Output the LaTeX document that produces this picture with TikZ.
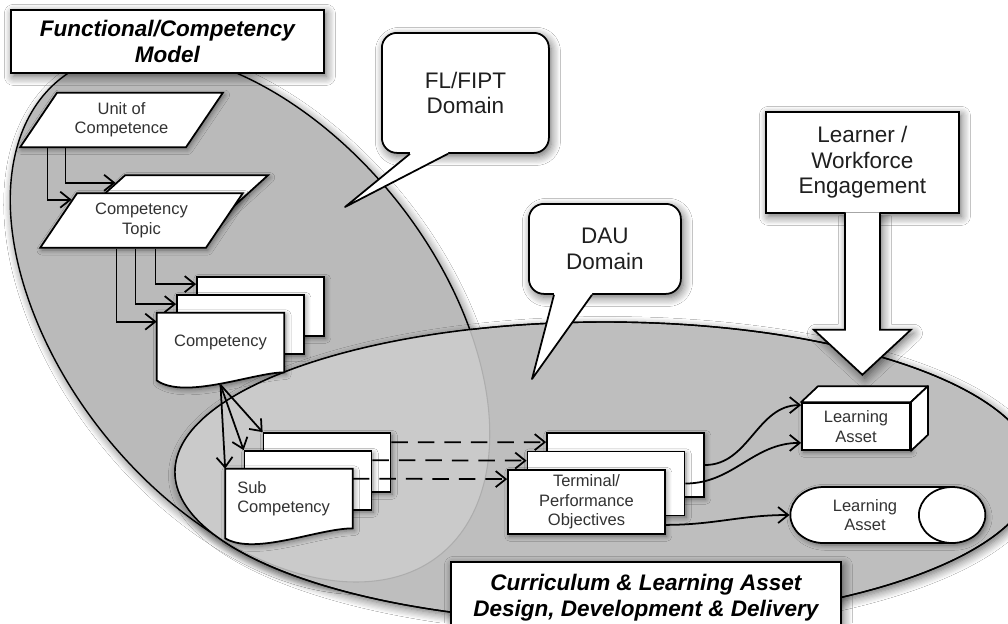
\documentclass[tikz,border=0pt]{standalone}
\usepackage{fontspec}
\setmainfont{Liberation Sans}
\usepackage{tikz}
\usetikzlibrary{arrows.meta,positioning,calc,shapes.geometric,shadows.blur}
\definecolor{fcm}{RGB}{186,186,186}
\definecolor{cla}{RGB}{190,190,190}
\definecolor{both}{RGB}{202,202,202}
\definecolor{ink}{RGB}{50,50,50}
\tikzset{
  halo/.style={blur shadow={shadow xshift=0.5mm, shadow yshift=-0.7mm, shadow blur radius=1.8mm, shadow blur steps=8, shadow opacity=60}},
  halosm/.style={blur shadow={shadow xshift=0.35mm, shadow yshift=-0.45mm, shadow blur radius=1mm, shadow blur steps=6, shadow opacity=45}},
  region/.style={draw=black, line width=0.8pt},
  panel/.style={draw, fill=white, line width=1pt, align=center, font=\fontsize{12.8}{14.4}\selectfont, text=black!88, anchor=north west, halo},
  banner/.style={panel, font=\fontsize{12.8}{14.6}\selectfont\bfseries\itshape, text=black, inner sep=2pt},
  bubble/.style={panel, rounded corners=3mm},
  tail/.style={line width=1pt, line join=round},
  fat/.style={draw, fill=white, line width=1pt, halo},
  lbl/.style={font=\fontsize{9.4}{11}\selectfont, text=ink, align=center, inner sep=1pt},
  unit/.style={trapezium, trapezium left angle=54, trapezium right angle=126, trapezium stretches=true, draw, fill=white, line width=1pt, minimum width=4.06cm, minimum height=1.09cm, lbl, halosm},
  frame/.style={minimum width=2.54cm, minimum height=1.18cm, inner sep=0pt},
  sheet/.style={frame, draw, fill=white, line width=1pt, lbl, halosm},
  slab/.style={sheet, minimum width=3.14cm, minimum height=1.28cm},
  docpath/.style={draw, fill=white, line width=1pt, halosm},
  block/.style={draw, fill=white, line width=1pt, minimum width=2.16cm, minimum height=0.94cm, lbl, halosm},
  face/.style={draw, fill=white, line width=1pt, line join=round},
  drum/.style={cylinder, shape border rotate=0, shape aspect=1.9, draw, fill=white, line width=1pt, minimum width=1.12cm, minimum height=3.9cm, lbl, halosm},
  flow/.style={-{Straight Barb[length=2mm,width=3.2mm]}, line width=1pt},
  trace/.style={flow, dash pattern=on 3.3mm off 2mm},
}
\begin{document}
\begin{tikzpicture}
  \path[use as bounding box, fill=white] (0,0) rectangle (20.16,-12.46);

  \path[fill=white, halo, shift={(5.0,-6.34)}, xslant=-0.4] (0,0) ellipse [x radius=4.3, y radius=5.3];
  \path[region, fill=fcm, shift={(5.0,-6.34)}, xslant=-0.4] (0,0) ellipse [x radius=4.3, y radius=5.3];
  \path[region, fill=cla, halo] (12.1,-9.44) ellipse [x radius=8.6, y radius=3.0];
  \begin{scope}
    \clip (12.1,-9.44) ellipse [x radius=8.6, y radius=3.0];
    \path[fill=both, draw=black!32, line width=0.6pt, shift={(5.0,-6.34)}, xslant=-0.4] (0,0) ellipse [x radius=4.3, y radius=5.3];
  \end{scope}
  \draw[region] (12.1,-9.44) ellipse [x radius=8.6, y radius=3.0];

  \node[banner, minimum width=6.26cm, minimum height=1.26cm] (fcmodel) at (0.2,-0.18) {Functional/Competency\\Model};
  \node[banner, minimum width=7.8cm, minimum height=1.42cm] (cladd) at (9.0,-11.22) {Curriculum \& Learning Asset\\Design, Development \& Delivery};

  \node[bubble, minimum width=3.34cm, minimum height=2.4cm] (flfipt) at (7.62,-0.64) {FL/FIPT\\Domain};
  \coordinate (flfipt-tip) at (6.9,-4.14);
  \fill[white] ([xshift=0.58cm,yshift=0.05cm]flfipt.south west) -- ([xshift=0.58cm]flfipt.south west) -- (flfipt-tip) -- ([xshift=1.34cm]flfipt.south west) -- ([xshift=1.34cm,yshift=0.05cm]flfipt.south west) -- cycle;
  \draw[tail] ([xshift=0.58cm]flfipt.south west) -- (flfipt-tip) -- ([xshift=1.34cm]flfipt.south west);

  \node[bubble, minimum width=3.04cm, minimum height=1.8cm] (dau) at (10.56,-4.06) {DAU\\Domain};
  \coordinate (dau-tip) at (10.64,-7.58);
  \fill[white] ([xshift=0.52cm,yshift=0.05cm]dau.south west) -- ([xshift=0.52cm]dau.south west) -- (dau-tip) -- ([xshift=1.28cm]dau.south west) -- ([xshift=1.28cm,yshift=0.05cm]dau.south west) -- cycle;
  \draw[tail] ([xshift=0.52cm]dau.south west) -- (dau-tip) -- ([xshift=1.28cm]dau.south west);

  \node[panel, minimum width=3.86cm, minimum height=2.02cm] (learner) at (15.3,-2.22) {Learner /\\Workforce\\Engagement};
  \draw[fat] ($(learner.south)+(-0.35,0.03)$) -- ++(0,-2.35) -- ++(-0.62,0) -- ++(0.97,-0.9) -- ++(0.97,0.9) -- ++(-0.62,0) -- ++(0,2.35);

  \node[unit] (uoc) at (2.43,-2.4) {Unit of\\Competence};
  \node[unit] (topic2) at (3.33,-4.05) {};
  \node[unit] (topic1) at (2.83,-4.41) {Competency\\Topic};

  \node[sheet] (comp3) at (5.21,-6.13) {};
  \node[sheet] (comp2) at (4.81,-6.49) {};
  \node[frame] (comp1) at (4.41,-6.85) {};
  \path[docpath] (comp1.north west) -- (comp1.north east) -- (comp1.south east) .. controls +(-0.6,0) and +(0.56,-0.4) .. ([yshift=-0.16cm]comp1.south west) -- cycle;
  \node[lbl] (comp1-text) at (comp1) {Competency};

  \node[sheet] (sub3) at (6.54,-9.25) {};
  \node[sheet] (sub2) at (6.16,-9.61) {};
  \node[frame] (sub1) at (5.78,-9.97) {};
  \path[docpath] (sub1.north west) -- (sub1.north east) -- (sub1.south east) .. controls +(-0.7,0) and +(0.6,-0.35) .. ([yshift=-0.2cm]sub1.south west) -- cycle;
  \node[lbl, anchor=west, align=left] (sub1-text) at ([xshift=0.2cm]sub1.west) {Sub\\Competency};

  \node[slab] (term3) at (12.51,-9.3) {};
  \node[slab] (term2) at (12.12,-9.67) {};
  \node[slab] (term1) at (11.73,-10.04) {Terminal/\\Performance\\Objectives};

  \node[block] (asset1) at (17.12,-8.53) {Learning\\Asset};
  \path[face] (asset1.north west) -- ++(0.34,0.32) -- ($(asset1.north east)+(0.34,0.32)$) -- (asset1.north east) -- cycle;
  \path[face] (asset1.north east) -- ++(0.34,0.32) -- ($(asset1.south east)+(0.34,0.32)$) -- (asset1.south east) -- cycle;
  \node[drum] (asset2) at (17.3,-10.3) {Learning\\Asset};

  \draw[flow] ([xshift=0.58cm]uoc.bottom left corner) |- ($(topic1.top left corner)!0.13!(topic1.bottom left corner)$);
  \draw[flow] ([xshift=0.94cm]uoc.bottom left corner) |- ($(topic2.top left corner)!0.15!(topic2.bottom left corner)$);
  \draw[flow] ([xshift=1.56cm]topic1.bottom left corner) |- ([yshift=-0.18cm]comp1.north west);
  \draw[flow] ([xshift=1.94cm]topic1.bottom left corner) |- ([yshift=-0.2cm]comp2.north west);
  \draw[flow] ([xshift=2.34cm]topic1.bottom left corner) |- ([yshift=-0.16cm]comp3.north west);

  \coordinate (comp-out) at ([yshift=-0.25cm]comp1.south);
  \draw[flow] (comp-out) -- (sub1.north west);
  \draw[flow] (comp-out) -- (sub2.north west);
  \draw[flow] (comp-out) -- (sub3.north west);

  \draw[trace] ([yshift=-0.2cm]sub3.north east) -- ([yshift=-0.2cm]term3.north west);
  \draw[trace] ([yshift=-0.2cm]sub2.north east) -- ([yshift=-0.2cm]term2.north west);
  \draw[trace] ([yshift=-0.2cm]sub1.north east) -- ([yshift=-0.2cm]term1.north west);

  \draw[flow] (term3.east) to[out=0,in=180] ([yshift=-0.06cm]asset1.north west);
  \draw[flow] (term2.east) to[out=0,in=180] ([yshift=0.16cm]asset1.south west);
  \draw[flow] ($(term1.south east)+(0,0.2)$) to[out=0,in=180] (asset2.west);
\end{tikzpicture}
\end{document}
